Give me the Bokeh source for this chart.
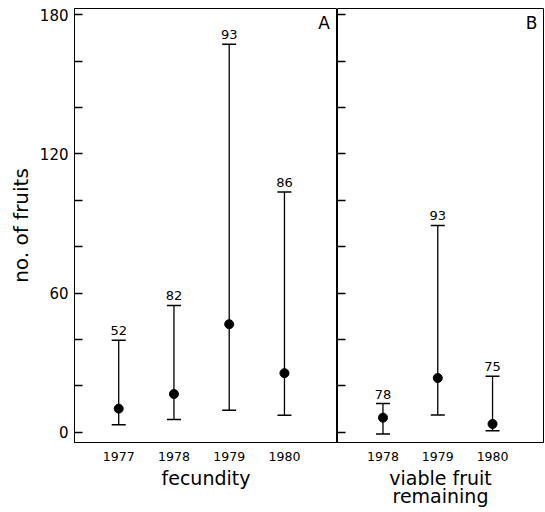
from bokeh.plotting import figure
from bokeh.models import ColumnDataSource, Whisker, TeeHead, FixedTicker, Range1d, Label
from bokeh.layouts import row
from bokeh.embed import file_html
from bokeh.resources import INLINE
from bokeh.core.properties import value

# ---- data ----
years_a = ["1977", "1978", "1979", "1980"]
mean_a = [10.2, 16.5, 46.6, 25.5]
lower_a = [3.3, 5.5, 9.5, 7.3]
upper_a = [39.7, 54.7, 167.3, 103.6]
n_a = ["52", "82", "93", "86"]

years_b = ["1978", "1979", "1980"]
mean_b = [6.3, 23.4, 3.6]
lower_b = [-0.7, 7.5, 0.7]
upper_b = [12.4, 89.2, 24.2]
n_b = ["78", "93", "75"]

y_major = [0, 60, 120, 180]
y_minor = [20, 40, 80, 100, 140, 160]

FONT = "DejaVu Sans"
yr = Range1d(-4.4, 182.7)


def panel(years, mean, lower, upper, n, width, xr, border_left, title, letter, letter_x, show_labels):
    xs = list(range(1, len(years) + 1))
    src = ColumnDataSource(dict(x=xs, mean=mean, lower=lower, upper=upper, n=n))
    p = figure(width=width, height=512, x_range=xr, y_range=yr,
               output_backend="svg", toolbar_location=None,
               min_border_left=border_left, min_border_right=2 if not show_labels else 0,
               min_border_top=8, min_border_bottom=70)
    p.grid.visible = False
    p.outline_line_color = "black"
    p.outline_line_width = 1.0
    p.background_fill_color = "white"
    p.border_fill_color = "white"

    w = Whisker(base="x", upper="upper", lower="lower", source=src, dimension="height",
                line_color="black", line_width=1.3,
                upper_head=TeeHead(size=14, line_color="black", line_width=1.5),
                lower_head=TeeHead(size=14, line_color="black", line_width=1.5))
    p.add_layout(w)
    p.scatter("x", "mean", source=src, size=9, color="black")
    p.text("x", "upper", text="n", source=src, y_offset=-5, text_align="center",
           text_baseline="bottom", text_font=value(FONT), text_font_size="13px",
           text_color="black")

    p.xaxis.ticker = FixedTicker(ticks=xs)
    p.xaxis.major_label_overrides = {x: y for x, y in zip(xs, years)}
    p.xaxis.major_tick_in = 0
    p.xaxis.major_tick_out = 0
    p.xaxis.minor_tick_out = 0
    p.xaxis.major_label_text_font = FONT
    p.xaxis.major_label_text_font_size = "12.5px"
    p.xaxis.major_label_text_color = "black"
    p.xaxis.major_label_standoff = 9
    p.xaxis.axis_label = title
    p.xaxis.axis_label_text_font = FONT
    p.xaxis.axis_label_text_font_size = "19px"
    p.xaxis.axis_label_text_font_style = "normal"
    p.xaxis.axis_label_text_color = "black"
    p.xaxis.axis_label_text_line_height = 0.85
    p.xaxis.axis_label_standoff = 3
    p.xaxis.axis_line_color = "black"

    p.yaxis.ticker = FixedTicker(ticks=y_major, minor_ticks=y_minor)
    p.yaxis.major_tick_in = 8
    p.yaxis.major_tick_out = 0
    p.yaxis.minor_tick_in = 8
    p.yaxis.minor_tick_out = 0
    p.yaxis.major_tick_line_width = 1.3
    p.yaxis.minor_tick_line_width = 1.3
    p.yaxis.major_tick_line_color = "black"
    p.yaxis.minor_tick_line_color = "black"
    if show_labels:
        p.yaxis.axis_line_color = "black"
        p.yaxis.major_label_text_font = FONT
        p.yaxis.major_label_text_font_size = "15px"
        p.yaxis.major_label_text_color = "black"
        p.yaxis.major_label_standoff = 6
        p.yaxis.axis_label = "no. of fruits"
        p.yaxis.axis_label_text_font = FONT
        p.yaxis.axis_label_text_font_size = "20px"
        p.yaxis.axis_label_text_font_style = "normal"
        p.yaxis.axis_label_text_color = "black"
        p.yaxis.axis_label_standoff = 4
    else:
        p.yaxis.axis_line_color = None
        p.yaxis.major_label_overrides = {t: "" for t in y_major}
        p.yaxis.major_label_standoff = 0

    p.add_layout(Label(x=letter_x, y=172, text=letter, text_align="right",
                       text_baseline="bottom", text_font=FONT,
                       text_font_size="17px", text_color="black"))
    return p


pa = panel(years_a, mean_a, lower_a, upper_a, n_a, 337, Range1d(0.2, 4.96), 74,
           "fecundity", "A", 4.82, True)
pb = panel(years_b, mean_b, lower_b, upper_b, n_b, 208, Range1d(0.17, 3.93), 0,
           "viable fruit\nremaining", "B", 3.82, False)

layout = row(pa, pb, spacing=0)
open("out.html", "w").write(file_html(layout, INLINE))
